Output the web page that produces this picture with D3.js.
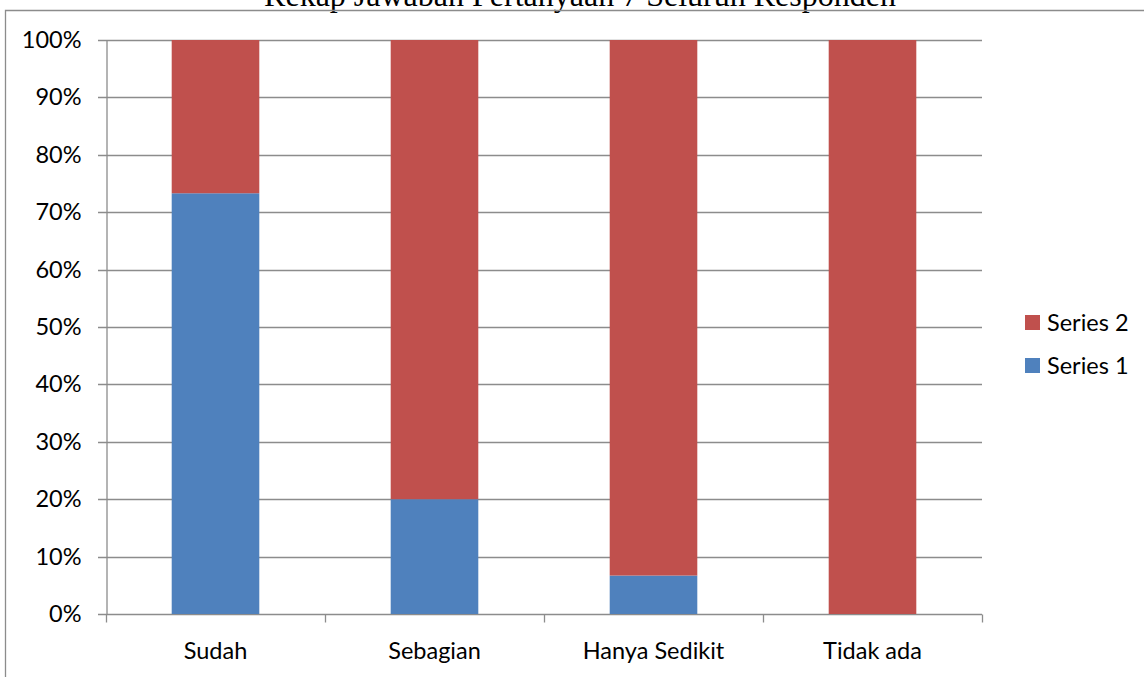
<!DOCTYPE html>
<html>
<head>
<meta charset="utf-8">
<script src="https://cdn.jsdelivr.net/npm/d3@7"></script>
<style>
  body { margin: 0; background: #fff; }
  svg { display: block; }
</style>
</head>
<body>
<div id="chart"></div>
<script>
"use strict";
// values (percent of respondents)
const categories = ["Sudah", "Sebagian", "Hanya Sedikit", "Tidak ada"];
const series1 = [73.3, 20, 6.7, 0];
const series2 = [26.7, 80, 93.3, 100];
const seriesNames = ["Series 1", "Series 2"];
const yTicks = [0, 10, 20, 30, 40, 50, 60, 70, 80, 90, 100];
const colors = ["#4F81BD", "#C0504D"];
const titleText = "Rekap Jawaban Pertanyaan 7 Seluruh Responden";

const W = 1144, H = 677;
const margin = { top: 40, left: 106, right: 162, bottom: 63 };
const font = "Lato, 'Open Sans', sans-serif";
const fontSize = "23.5px";

const svg = d3.select("#chart").append("svg")
    .attr("width", W)
    .attr("height", H)
    .attr("viewBox", `0 0 ${W} ${H}`);

// title is cut by the top of the frame, only its lower part shows (as in the original)
svg.append("text")
    .attr("x", 580)
    .attr("y", 6)
    .attr("text-anchor", "middle")
    .style("font-family", "'Liberation Serif', 'Times New Roman', serif")
    .style("font-size", "32px")
    .text(titleText);

// chart frame
svg.append("path")
    .attr("d", `M5.5,${H} V10.5 H${W}`)
    .attr("fill", "none")
    .attr("stroke", "#8c8c8c")
    .attr("stroke-width", 1.3);

const x = d3.scaleBand()
    .domain(categories)
    .range([margin.left, W - margin.right])
    .paddingInner(0.6)
    .paddingOuter(0.3);

const y = d3.scaleLinear()
    .domain([0, 100])
    .range([H - margin.bottom, margin.top]);

const rows = categories.map((c, i) => ({ cat: c, s1: series1[i], s2: series2[i] }));
const stacked = d3.stack().keys(["s1", "s2"])(rows);

// gridlines with the little tick stub on the left
const grid = svg.append("g");
grid.selectAll("line")
    .data(yTicks)
    .join("line")
    .attr("x1", margin.left - 8)
    .attr("x2", W - margin.right)
    .attr("y1", d => Math.round(y(d)) + 0.5)
    .attr("y2", d => Math.round(y(d)) + 0.5)
    .attr("stroke", "#8c8c8c")
    .attr("stroke-width", 1.3);

// bars
svg.append("g").selectAll("g")
    .data(stacked)
    .join("g")
    .attr("fill", (d, i) => colors[i])
    .selectAll("rect")
    .data(d => d.map(v => Object.assign(v, { cat: v.data.cat })))
    .join("rect")
    .attr("x", d => x(d.cat))
    .attr("width", x.bandwidth())
    .attr("y", d => y(d[1]))
    .attr("height", d => y(d[0]) - y(d[1]));

// y axis
const yAxis = svg.append("g")
    .attr("transform", `translate(${margin.left + 0.5},0)`)
    .call(d3.axisLeft(y).tickValues(yTicks).tickSize(0).tickPadding(25)
        .tickFormat(d => d + "%"));
yAxis.select(".domain").attr("stroke", "#8c8c8c").attr("stroke-width", 1.3);
yAxis.selectAll("text")
    .style("font-family", font)
    .style("font-size", fontSize)
    .attr("fill", "#000");

// x axis, ticks sit between the categories
const bounds = d3.range(categories.length + 1).map(i => margin.left + i * (W - margin.right - margin.left) / categories.length);
const xAxis = svg.append("g")
    .attr("transform", `translate(0,${H - margin.bottom + 0.5})`);
xAxis.selectAll("line")
    .data(bounds)
    .join("line")
    .attr("x1", d => Math.round(d) + 0.5)
    .attr("x2", d => Math.round(d) + 0.5)
    .attr("y1", 0)
    .attr("y2", 8)
    .attr("stroke", "#8c8c8c")
    .attr("stroke-width", 1.3);
xAxis.selectAll("text")
    .data(categories)
    .join("text")
    .attr("x", d => x(d) + x.bandwidth() / 2)
    .attr("y", 44)
    .attr("text-anchor", "middle")
    .style("font-family", font)
    .style("font-size", fontSize)
    .text(d => d);

// legend, series 2 on top like the original
const legend = svg.append("g")
    .attr("transform", "translate(1025,315)");
const legendItems = legend.selectAll("g")
    .data([1, 0])
    .join("g")
    .attr("transform", (d, i) => `translate(0,${i * 43})`);
legendItems.append("rect")
    .attr("width", 15)
    .attr("height", 15)
    .attr("fill", d => colors[d]);
legendItems.append("text")
    .attr("x", 22)
    .attr("y", 7.5)
    .attr("dy", "0.35em")
    .style("font-family", font)
    .style("font-size", fontSize)
    .text(d => seriesNames[d]);
</script>
</body>
</html>
